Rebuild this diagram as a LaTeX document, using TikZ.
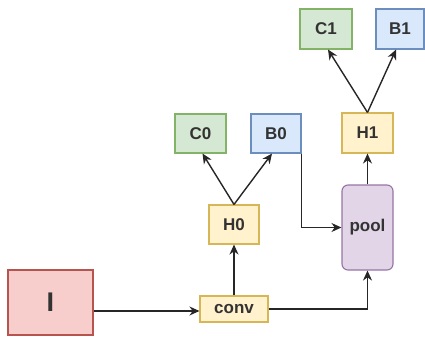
\documentclass[tikz,border=0pt]{standalone}
\usepackage{fontspec}
\setmainfont{Liberation Sans}
\usetikzlibrary{arrows.meta}
\definecolor{redF}{HTML}{F8CECC}\definecolor{redS}{HTML}{B85450}
\definecolor{yelF}{HTML}{FFF2CC}\definecolor{yelS}{HTML}{D6B656}
\definecolor{grnF}{HTML}{D5E8D4}\definecolor{grnS}{HTML}{82B366}
\definecolor{bluF}{HTML}{DAE8FC}\definecolor{bluS}{HTML}{6C8EBF}
\definecolor{purF}{HTML}{E1D5E7}\definecolor{purS}{HTML}{9673A6}
\definecolor{txt}{HTML}{333333}
\tikzset{
  box/.style={draw, line width=1.1pt, inner sep=0pt, text=txt, font=\bfseries\fontsize{17}{17}\selectfont},
  ybox/.style={box, fill=yelF, draw=yelS},
  gbox/.style={box, fill=grnF, draw=grnS},
  bbox/.style={box, fill=bluF, draw=bluS},
  conn/.style={line width=1.4pt, draw=black!85, -{Stealth[length=10pt,width=9pt]}},
}
\begin{document}
\begin{tikzpicture}[x=1pt,y=-1pt]
\useasboundingbox (0,0) rectangle (425,337);
\node[box, fill=redF, draw=redS, minimum width=85pt, minimum height=65pt, font=\bfseries\fontsize{27}{27}\selectfont] (I) at (50.5,302.5) {I};
\node[ybox, minimum width=68pt, minimum height=26pt] (conv) at (234,309) {conv};
\node[ybox, minimum width=50pt, minimum height=39pt] (H0) at (234,224.5) {H0};
\node[gbox, minimum width=51pt, minimum height=39pt] (C0) at (200.5,133.5) {C0};
\node[bbox, minimum width=50pt, minimum height=39pt] (B0) at (276,133.5) {B0};
\node[box, fill=purF, draw=purS, rounded corners=6pt, minimum width=51pt, minimum height=85pt] (pool) at (367.5,227.5) {pool};
\node[ybox, minimum width=51pt, minimum height=40pt] (H1) at (367.5,133) {H1};
\node[gbox, minimum width=52pt, minimum height=40pt] (C1) at (326,29) {C1};
\node[bbox, minimum width=48pt, minimum height=40pt] (B1) at (400,29) {B1};
\draw[conn] (I.east |- 0,311) coordinate (a) -- (conv.west |- a);
\draw[conn] (conv) -- (H0);
\draw[conn] (H0.north) -- ([xshift=2pt]C0.south);
\draw[conn] (H0.north) -- ([xshift=-4pt]B0.south);
\draw[conn] (B0.south east) |- (pool.west);
\draw[conn] (conv.east) -| (pool.south);
\draw[conn] (pool) -- (H1);
\draw[conn] (H1.north) -- ([xshift=2pt]C1.south);
\draw[conn] (H1.north) -- ([xshift=-4pt]B1.south);
\end{tikzpicture}
\end{document}
